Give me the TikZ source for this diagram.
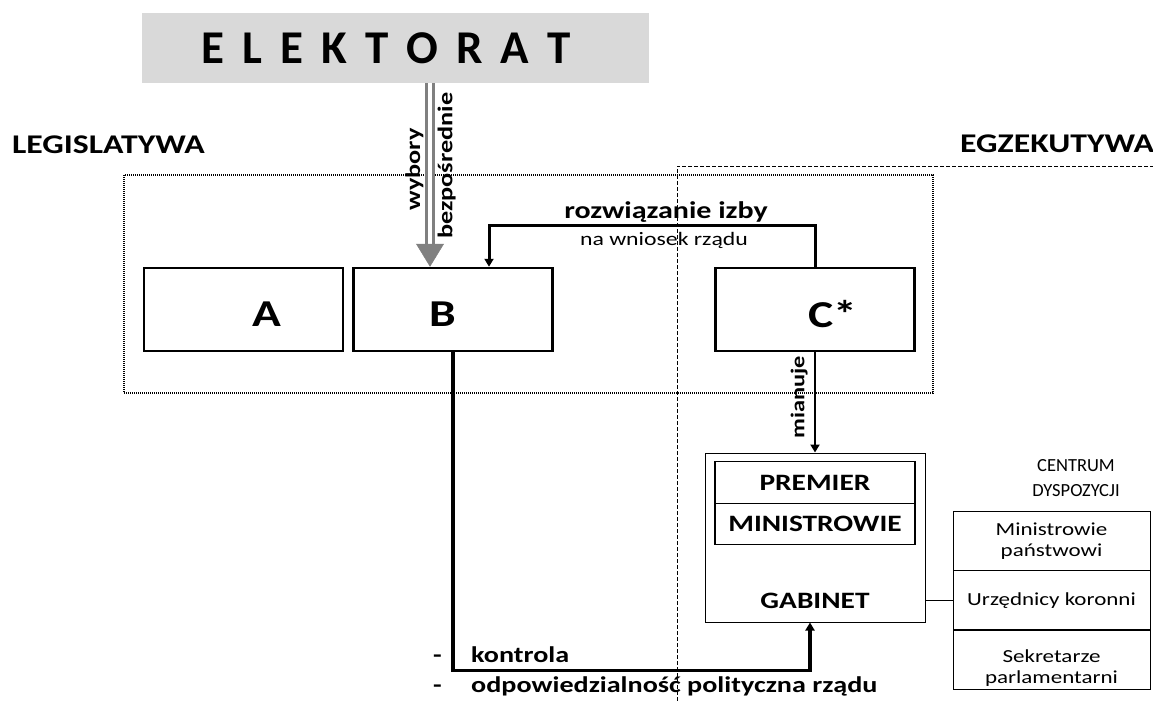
\documentclass[tikz,border=0pt]{standalone}
\usepackage{fontspec}
\setmainfont{Carlito}[FakeStretch=1.25]
\newfontfamily\plainfont{Carlito}
\newfontfamily\spacedfont{Carlito}[WordSpace=1.7]
\usepackage{xcolor}
\usetikzlibrary{positioning, arrows.meta}

\definecolor{elekgray}{HTML}{D9D9D9}
\definecolor{votegray}{HTML}{808080}

\begin{document}
\begin{tikzpicture}[x=1pt, y=-1pt, on grid,
  chamber/.style={draw, line width=2.5pt, minimum width=199pt, minimum height=83pt},
  chamberlabel/.style={font=\bfseries\fontsize{38}{40}\selectfont, inner sep=0pt, yshift=-5pt},
  wing/.style={font=\bfseries\fontsize{27}{30}\selectfont, inner sep=0pt, anchor=base west},
  member/.style={draw, line width=1.2pt, minimum width=200pt, minimum height=41.5pt,
    font=\bfseries\fontsize{23.5}{25}\selectfont},
  office/.style={draw, line width=1pt, minimum width=197pt, minimum height=59.5pt,
    align=center, font=\fontsize{18.4}{21}\selectfont},
  link/.style={line width=3pt, -{Triangle[width=9pt,length=8pt]}},
  frame/.style={line width=1.2pt, dash pattern=on 1pt off 1pt},
  vote/.style={votegray, line width=3.3pt, double=white, double distance=3.3pt},
  votetip/.style={votegray, line width=0.5pt, -{Triangle[width=28pt,length=23pt]}},
  sidelabel/.style={text=black, font=\bfseries\fontsize{21}{23}\selectfont, rotate=90, inner sep=5pt}]

  \useasboundingbox (0,0) rectangle (1153,701);

  % legislatywa / egzekutywa
  \draw[frame] (124,175) rectangle (933,393);
  \draw[line width=1pt, dash pattern=on 4pt off 2pt] (1160,166) -- (677,166) -- (677,705);
  \node[wing] (leg) at (12,153) {LEGISLATYWA};
  \node[wing] (egz) at (960,152) {EGZEKUTYWA};

  \node[fill=elekgray, minimum width=507pt, minimum height=70pt,
    label={[font=\spacedfont\bfseries\fontsize{47}{50}\selectfont,
      xshift=-9.5pt]center:E L E K T O R A T}] (elektorat) at (395.5,48) {};

  \node[chamber, label={[chamberlabel, xshift=23pt]center:A}] (A) at (243.5,309.5) {};
  \node[chamber, label={[chamberlabel, xshift=-10pt]center:B}] (B) [right=209.5pt of A] {};
  \node[chamber, label={[chamberlabel, xshift=18pt]center:C*}] (C) [right=362pt of B] {};

  % gabinet
  \node[draw, line width=1pt, minimum width=220pt, minimum height=169pt,
    label={[font=\bfseries\fontsize{23.5}{25}\selectfont, yshift=-63pt]center:GABINET}] (gabinet) at (815,537.5) {};
  \node[member] (premier) at (815,482.5) {PREMIER};
  \node[member] (ministrowie) [below=41.5pt of premier] {MINISTROWIE};

  \node[align=center, font=\plainfont\fontsize{18.5}{25}\selectfont] (centrum) at (1076,478) {CENTRUM\\DYSPOZYCJI};
  \node[office] (panstwowi) at (1051.5,541) {Ministrowie\\państwowi};
  \node[office] (koronni) [below=59.5pt of panstwowi] {Urzędnicy koronni};
  \node[office, text height=47pt, text depth=0pt] (sekretarze) [below=59pt of koronni] {Sekretarze\\parlamentarni};

  % wybory
  \coordinate (vin) at ([xshift=-23pt]B.north);
  \draw[vote, shorten >=21pt] (elektorat.south -| vin) -- (vin)
    node[sidelabel, pos=0.47, anchor=south] {wybory}
    node[sidelabel, pos=0.45, anchor=north, inner sep=6pt] {bezpośrednie};
  \draw[votetip, shorten <=170pt] (elektorat.south -| vin) -- (vin);

  % rozwiazanie izby
  \coordinate (rin) at ([xshift=36pt]B.north);
  \draw[link] (C.north) -- ++(0,-41) -| (rin);
  \node[anchor=base, font=\bfseries\fontsize{24}{26}\selectfont] (dissolve) at (666,218) {rozwiązanie izby};
  \node[anchor=base, font=\fontsize{19}{21}\selectfont] (request) at (664,245) {na wniosek rządu};

  \draw[link, line width=2.5pt] (C.south) -- (gabinet.north)
    node[sidelabel, pos=0.45, anchor=south, inner sep=6pt, font=\bfseries\fontsize{19.5}{21}\selectfont] {mianuje};

  % kontrola
  \coordinate (gin) at ([xshift=-5pt]gabinet.south);
  \draw[link, line width=3.3pt] (B.south) -- ++(0,318) -| (gin);
  \node[anchor=north west, align=left, inner sep=0pt, font=\bfseries\fontsize{22.5}{30}\selectfont] (control)
    at (433,647) {\makebox[38pt][l]{-}kontrola\\\makebox[38pt][l]{-}odpowiedzialność polityczna rządu};

  \draw[line width=1pt] (gabinet.east |- koronni.west) -- (koronni.west);
\end{tikzpicture}
\end{document}
